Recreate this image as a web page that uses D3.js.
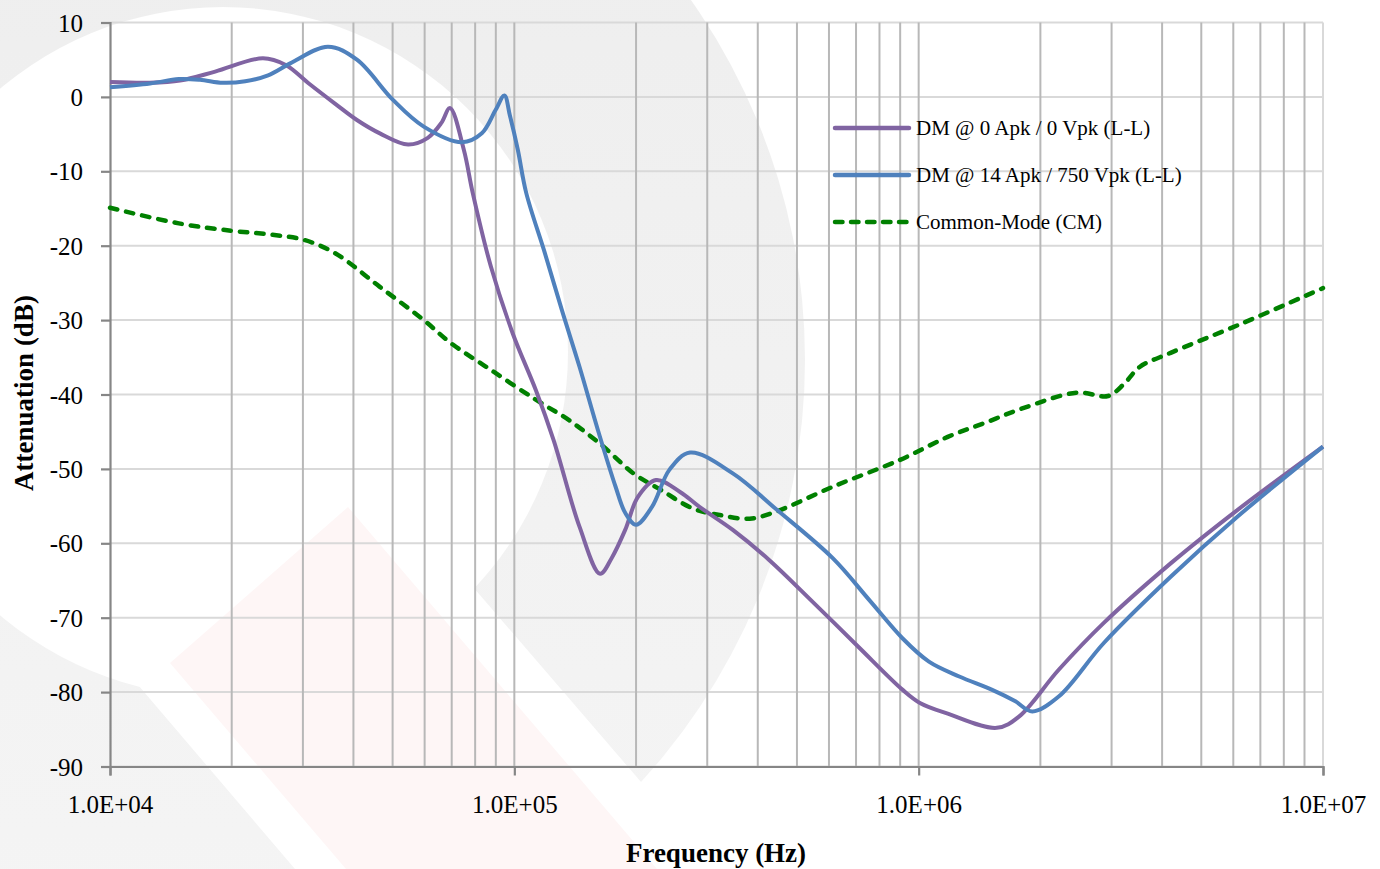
<!DOCTYPE html>
<html><head><meta charset="utf-8">
<script src="https://cdn.jsdelivr.net/npm/d3@7/dist/d3.min.js"></script>
<style>
html,body{margin:0;padding:0;background:#fff;}
svg{display:block;font-family:"Liberation Serif","Times New Roman",serif;}
</style></head>
<body>
<svg id="chart" width="1380" height="869"></svg>
<script>
// ---------- data ----------
const seriesNames = ["DM @ 0 Apk / 0 Vpk (L-L)", "DM @ 14 Apk / 750 Vpk (L-L)", "Common-Mode (CM)"];

const dm0Freq = [1.0e4,1.256e4,1.49e4,1.82e4,2.39e4,2.72e4,3.12e4,3.6e4,4.08e4,4.65e4,5.46e4,6.11e4,6.6e4,6.93e4,7.5e4,7.89e4,8.75e4,9.91e4,1.13e5,1.25e5,1.45e5,1.63e5,1.74e5,1.88e5,2.02e5,2.24e5,2.57e5,2.87e5,3.47e5,4.26e5,5.5e5,7.09e5,9.13e5,1.01e6,1.18e6,1.56e6,1.77e6,2.22e6,2.87e6,4.2e6,6.15e6,1.0e7];
const dm0Val  = [2.0,1.9,2.2,3.4,5.2,4.3,1.7,-0.9,-3.1,-4.9,-6.4,-5.5,-3.5,-1.5,-7.1,-12.9,-22.8,-31.8,-39.4,-46.1,-57.8,-64.1,-62.0,-58.2,-53.8,-51.5,-53.1,-55.1,-58.2,-62.2,-68.0,-73.9,-79.7,-81.5,-82.9,-84.8,-83.3,-77.0,-70.7,-62.7,-55.5,-47.0];

const dm14Freq = [1.0e4,1.256e4,1.48e4,1.67e4,1.9e4,2.16e4,2.46e4,2.79e4,3.46e4,4.08e4,5.01e4,5.97e4,7.42e4,8.31e4,8.98e4,9.45e4,9.75e4,1.02e5,1.07e5,1.19e5,1.31e5,1.45e5,1.61e5,1.78e5,1.88e5,2.0e5,2.19e5,2.42e5,2.72e5,3.47e5,4.46e5,6.13e5,7.57e5,9.13e5,1.06e6,1.26e6,1.52e6,1.73e6,1.91e6,2.22e6,2.87e6,4.2e6,6.15e6,1.0e7];
const dm14Val  = [1.3,1.8,2.4,2.3,1.9,2.1,2.9,4.5,6.75,5.0,-0.4,-4.0,-6.1,-4.9,-1.8,0.2,-2.5,-7.1,-12.9,-21.0,-28.6,-36.3,-44.8,-52.4,-55.9,-57.5,-55.1,-50.1,-47.8,-50.6,-55.5,-62.0,-67.7,-72.8,-75.9,-77.9,-79.7,-81.2,-82.6,-80.6,-73.4,-64.5,-56.4,-47.0];

const cmFreq = [1.0e4,1.48e4,2.0e4,2.49e4,3.01e4,3.6e4,4.64e4,5.97e4,6.97e4,8.75e4,1.13e5,1.37e5,1.66e5,1.97e5,2.3e5,2.76e5,3.22e5,3.82e5,4.46e5,6.13e5,8.98e5,1.18e6,1.46e6,1.82e6,2.46e6,2.94e6,3.23e6,3.52e6,4.2e6,6.15e6,1.0e7];
const cmVal  = [-14.9,-17.0,-18.0,-18.5,-19.2,-21.0,-25.5,-30.0,-33.1,-36.7,-40.7,-43.5,-47.0,-50.6,-52.8,-55.3,-56.2,-56.7,-55.7,-52.4,-48.8,-45.7,-43.8,-41.8,-39.75,-40.2,-38.5,-36.3,-34.4,-30.7,-25.7];

const yTicks = [10,0,-10,-20,-30,-40,-50,-60,-70,-80,-90];
const xTicks = [1e4,1e5,1e6,1e7];
const xTickLabels = ["1.0E+04","1.0E+05","1.0E+06","1.0E+07"];
const xTitle = "Frequency (Hz)";
const yTitle = "Attenuation (dB)";

// ---------- drawing ----------
const svg = d3.select("#chart");

// faint watermark background
const defs = svg.append("defs");
const grad = defs.append("linearGradient").attr("id","wm").attr("x1",0).attr("y1",0).attr("x2",0).attr("y2",1);
grad.append("stop").attr("offset","0%").attr("stop-color","#ededed");
grad.append("stop").attr("offset","100%").attr("stop-color","#f5f5f5");
const wm = svg.append("g");
const circ = (cx,cy,r)=>`M${cx-r},${cy}a${r},${r} 0 1,0 ${2*r},0a${r},${r} 0 1,0 ${-2*r},0Z`;
wm.append("path").attr("d", circ(180,360,625)+circ(223,352,345)).attr("fill","url(#wm)").attr("fill-rule","evenodd");
wm.append("path").attr("d","M0,523L295,869L716,869L473,587Z").attr("fill","#ffffff");
wm.append("path").attr("d","M170,663L348,507L657,869L346,869Z").attr("fill","#fef6f6");

const x = d3.scaleLog().domain([1e4,1e7]).range([110,1323]);
const y = d3.scaleLinear().domain([-90,10]).range([766.5,22.5]);

// horizontal grid
svg.append("g").selectAll("line").data(yTicks).join("line")
  .attr("x1",110).attr("x2",x(1e7)).attr("y1",d=>y(d)).attr("y2",d=>y(d))
  .attr("stroke","#d9d9d9").attr("stroke-width",2);

// vertical grid (minor + major)
const vGrid = [];
for (let e=4;e<7;e++) for (let m=1;m<=9;m++) { const v=m*Math.pow(10,e); if (v>1e4) vGrid.push(v); }
svg.append("g").selectAll("line").data(vGrid).join("line")
  .attr("x1",d=>x(d)).attr("x2",d=>x(d)).attr("y1",y(10)).attr("y2",y(-90))
  .attr("stroke","#b8b8b8").attr("stroke-width",2);
svg.append("line").attr("x1",x(1e7)).attr("x2",x(1e7)).attr("y1",y(10)).attr("y2",y(-90))
  .attr("stroke","#d9d9d9").attr("stroke-width",2);

// axes
const yAxis = d3.axisLeft(y).tickValues(yTicks).tickSize(9).tickFormat(d3.format("d"));
const gy = svg.append("g").attr("transform","translate(110,0)").call(yAxis);
gy.select(".domain").attr("stroke","#868686").attr("stroke-width",2.2);
gy.selectAll(".tick line").attr("stroke","#868686").attr("stroke-width",2.2);
gy.selectAll(".tick text").attr("font-size",25).attr("fill","#000").attr("x",-27)
  .attr("font-family","Liberation Serif").attr("dy","0.34em").text(d=>d<0?"-"+Math.abs(d):d);

const xAxis = d3.axisBottom(x).tickValues(xTicks).tickSize(9).tickFormat((d,i)=>xTickLabels[i]);
const gx = svg.append("g").attr("transform",`translate(0,${y(-90)})`).call(xAxis);
gx.select(".domain").attr("stroke","#868686").attr("stroke-width",2.2);
gx.selectAll(".tick line").attr("stroke","#868686").attr("stroke-width",2.2);
gx.selectAll(".tick text").attr("font-size",25).attr("fill","#000").attr("y",29).attr("dy","0.71em")
  .attr("font-family","Liberation Serif");

// axis titles
svg.append("text").attr("x",716).attr("y",862).attr("text-anchor","middle")
  .attr("font-size",27).attr("font-weight","bold").text(xTitle);
svg.append("text").attr("transform","translate(33,393) rotate(-90)").attr("text-anchor","middle")
  .attr("font-size",27).attr("font-weight","bold").text(yTitle);

// series
const line = d3.line().x(d=>x(d[0])).y(d=>y(d[1])).curve(d3.curveCatmullRom.alpha(0.5));
const zip = (a,b)=>a.map((f,i)=>[f,b[i]]);
const g = svg.append("g");
g.append("path").datum(zip(cmFreq,cmVal)).attr("d",line).attr("fill","none")
  .attr("stroke","#008000").attr("stroke-width",4.5).attr("stroke-dasharray","7.5,9").attr("stroke-linecap","round");
g.append("path").datum(zip(dm0Freq,dm0Val)).attr("d",line).attr("fill","none")
  .attr("stroke","#8064a2").attr("stroke-width",4).attr("stroke-linejoin","round");
g.append("path").datum(zip(dm14Freq,dm14Val)).attr("d",line).attr("fill","none")
  .attr("stroke","#4f81bd").attr("stroke-width",4).attr("stroke-linejoin","round");

// legend
const legStyles = [
  {c:"#8064a2", dash:null},
  {c:"#4f81bd", dash:null},
  {c:"#008000", dash:"7.5,8.5"}
];
const leg = svg.append("g").attr("transform","translate(835,128)");
seriesNames.forEach((n,i)=>{
  const row = leg.append("g").attr("transform",`translate(0,${i*47})`);
  row.append("line").attr("x1",0).attr("x2",74).attr("y1",0).attr("y2",0)
    .attr("stroke",legStyles[i].c).attr("stroke-width",4.5).attr("stroke-linecap","round")
    .attr("stroke-dasharray",legStyles[i].dash);
  row.append("text").attr("x",81).attr("y",0).attr("dy","0.33em").attr("font-size",21).text(n);
});
</script>
</body></html>
